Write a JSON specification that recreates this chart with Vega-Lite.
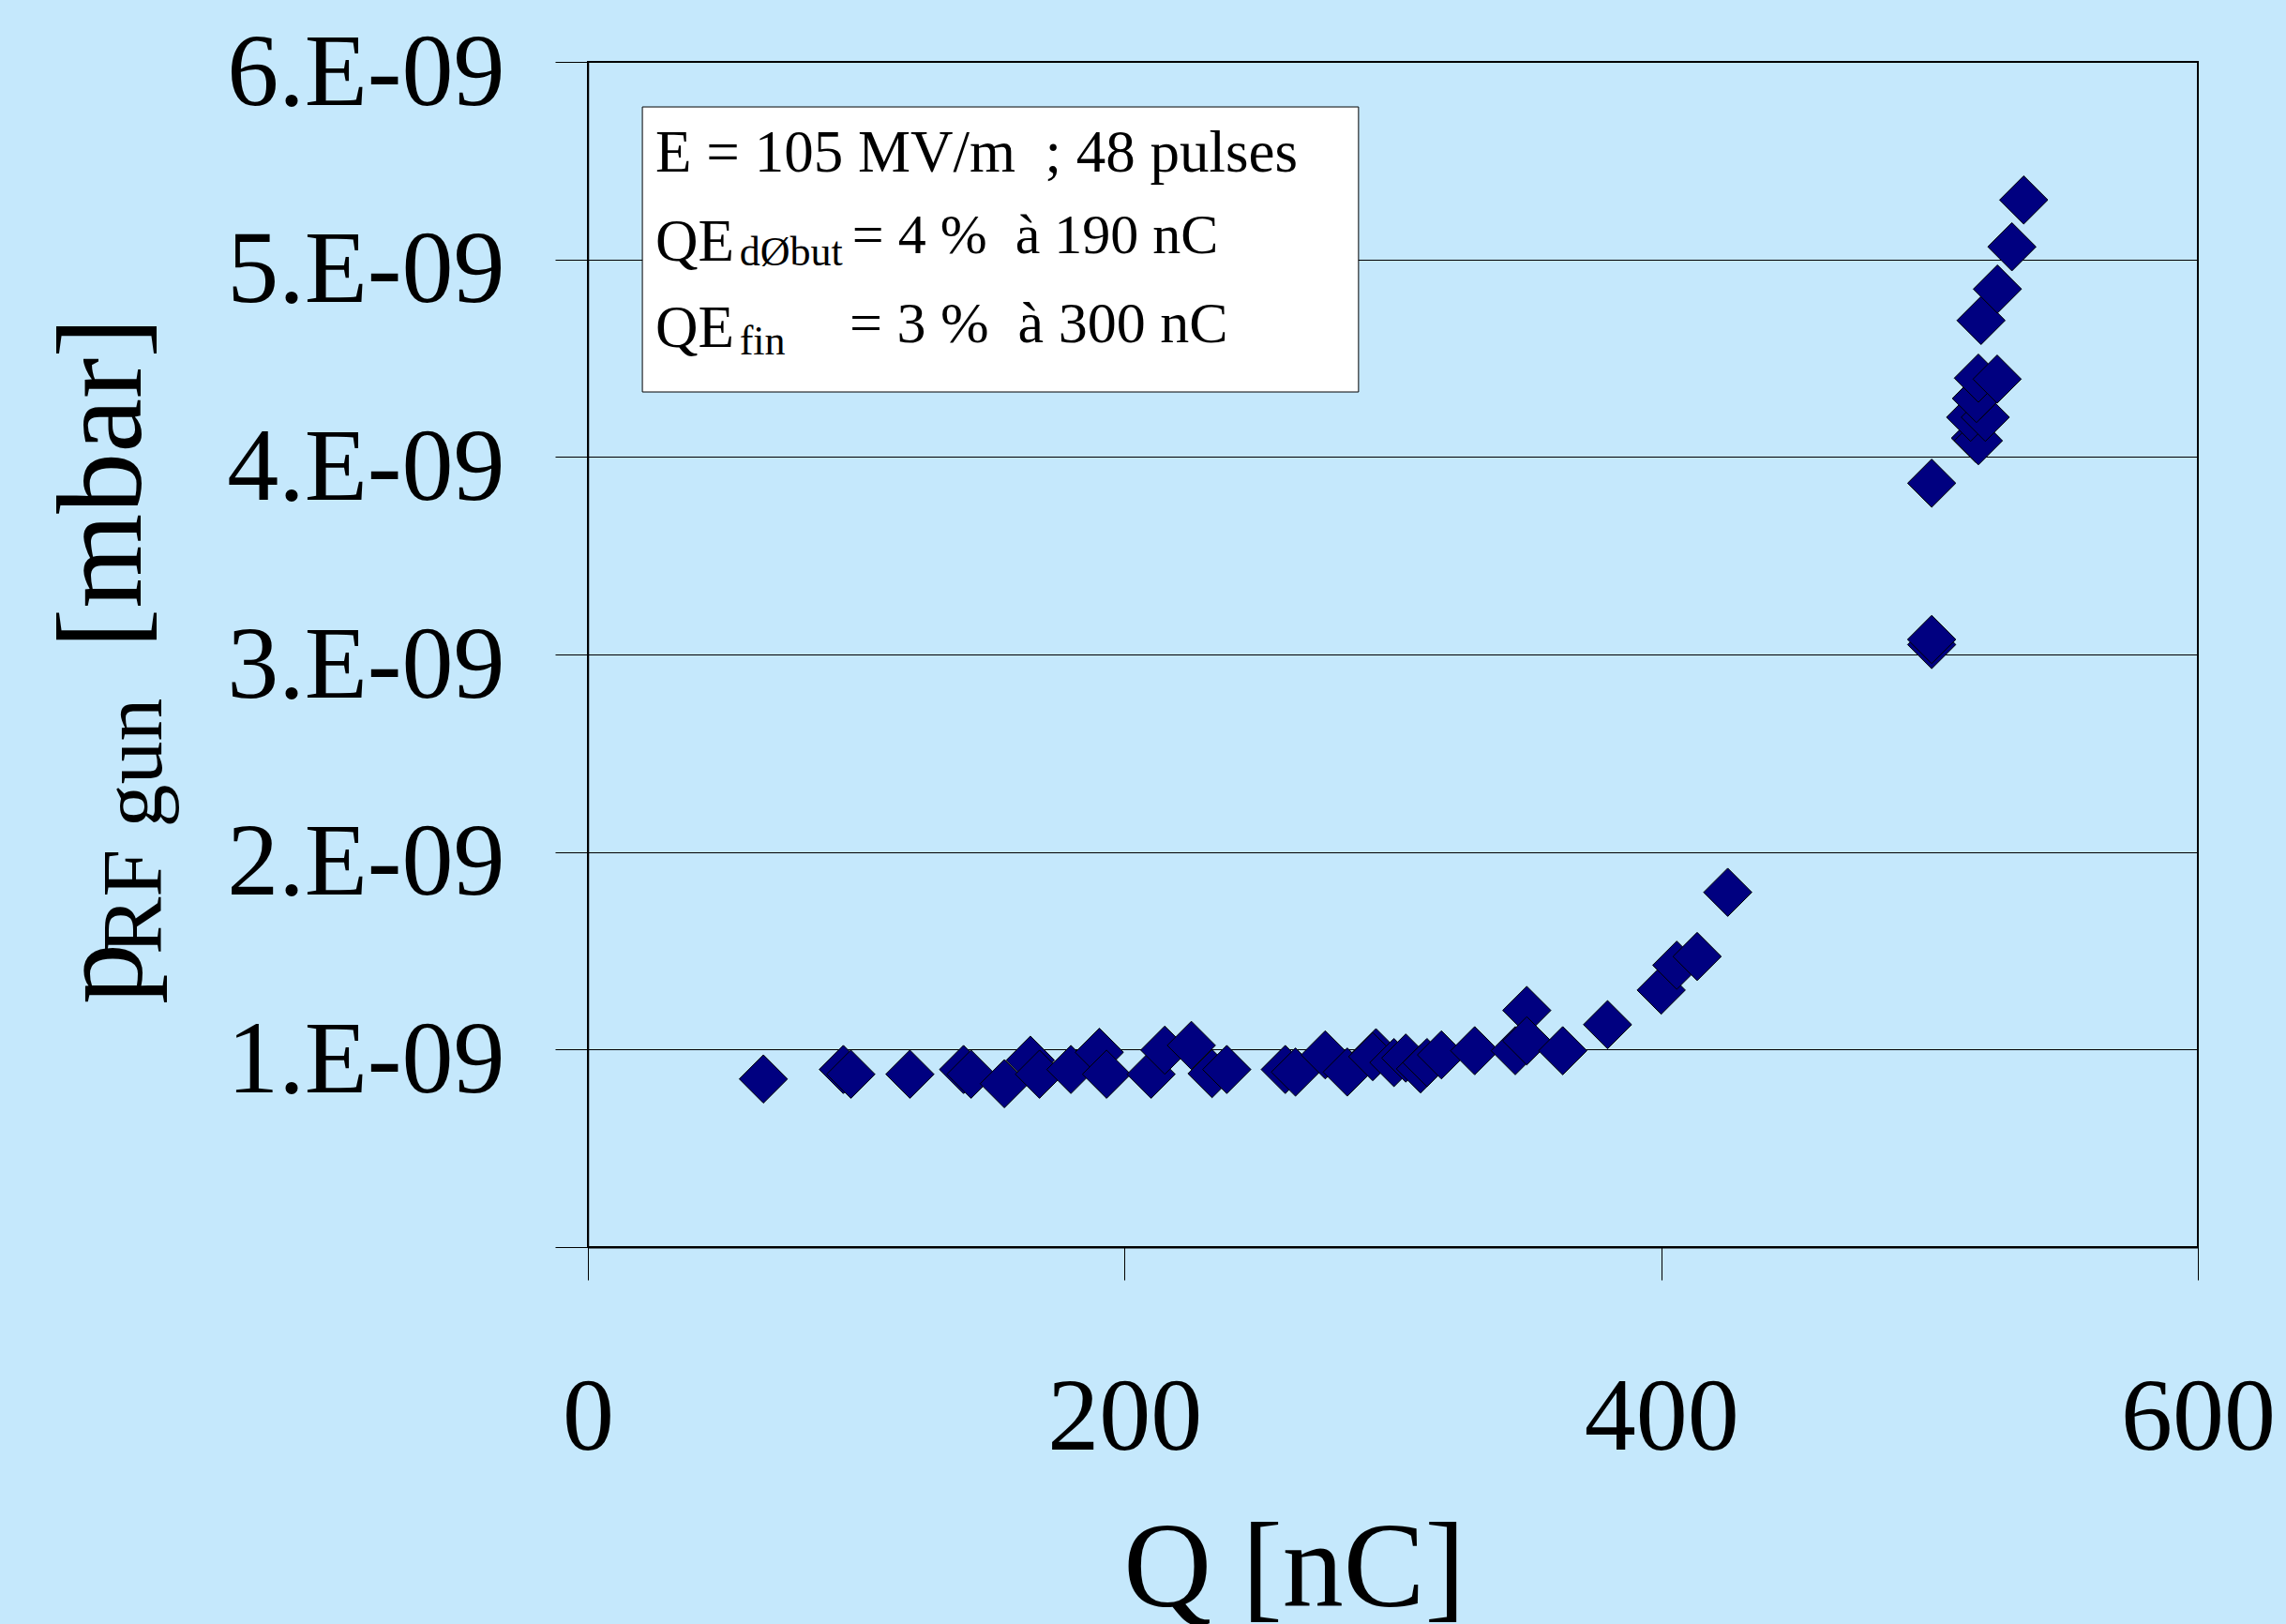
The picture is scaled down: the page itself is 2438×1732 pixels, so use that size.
{
  "$schema": "https://vega.github.io/schema/vega-lite/v6.json",
  "autosize": {"type": "none"},
  "padding": {"left": 627, "top": 66, "right": 94, "bottom": 402},
  "width": 1717,
  "height": 1264,
  "background": "#c5e8fc",
  "view": {"stroke": "#000000", "strokeWidth": 2, "fill": null},
  "config": {"font": "Liberation Serif"},
  "datasets": {
    "points": [
      {"Q": 65.4, "p": 8.51e-10},
      {"Q": 95.2, "p": 8.99e-10},
      {"Q": 98.0, "p": 8.75e-10},
      {"Q": 120.0, "p": 8.75e-10},
      {"Q": 140.0, "p": 8.99e-10},
      {"Q": 142.8, "p": 8.75e-10},
      {"Q": 155.2, "p": 8.27e-10},
      {"Q": 164.9, "p": 9.46e-10},
      {"Q": 168.3, "p": 8.75e-10},
      {"Q": 180.0, "p": 8.99e-10},
      {"Q": 190.6, "p": 9.86e-10},
      {"Q": 193.3, "p": 8.75e-10},
      {"Q": 209.9, "p": 8.75e-10},
      {"Q": 215.0, "p": 9.97e-10},
      {"Q": 224.9, "p": 1.021e-9},
      {"Q": 232.6, "p": 8.78e-10},
      {"Q": 238.1, "p": 8.99e-10},
      {"Q": 259.9, "p": 8.99e-10},
      {"Q": 263.7, "p": 8.86e-10},
      {"Q": 274.8, "p": 9.73e-10},
      {"Q": 283.0, "p": 8.86e-10},
      {"Q": 293.7, "p": 9.84e-10},
      {"Q": 292.5, "p": 9.64e-10},
      {"Q": 300.4, "p": 9.34e-10},
      {"Q": 304.8, "p": 9.57e-10},
      {"Q": 310.3, "p": 9.02e-10},
      {"Q": 312.7, "p": 9.34e-10},
      {"Q": 318.1, "p": 9.73e-10},
      {"Q": 330.5, "p": 9.94e-10},
      {"Q": 345.6, "p": 9.94e-10},
      {"Q": 349.9, "p": 1.198e-9},
      {"Q": 349.9, "p": 1.044e-9},
      {"Q": 363.3, "p": 9.94e-10},
      {"Q": 380.0, "p": 1.126e-9},
      {"Q": 400.0, "p": 1.301e-9},
      {"Q": 405.8, "p": 1.427e-9},
      {"Q": 413.4, "p": 1.471e-9},
      {"Q": 424.8, "p": 1.796e-9},
      {"Q": 500.8, "p": 3.05e-9},
      {"Q": 500.8, "p": 3.076e-9},
      {"Q": 500.8, "p": 3.867e-9},
      {"Q": 517.1, "p": 4.095e-9},
      {"Q": 518.2, "p": 4.082e-9},
      {"Q": 515.3, "p": 4.201e-9},
      {"Q": 520.8, "p": 4.201e-9},
      {"Q": 518.9, "p": 4.315e-9},
      {"Q": 517.5, "p": 4.296e-9},
      {"Q": 518.2, "p": 4.399e-9},
      {"Q": 525.2, "p": 4.394e-9},
      {"Q": 519.2, "p": 4.691e-9},
      {"Q": 525.3, "p": 4.85e-9},
      {"Q": 530.7, "p": 5.064e-9},
      {"Q": 535.1, "p": 5.301e-9}
    ]
  },
  "layer": [
    {
      "data": {"name": "points"},
      "mark": {"type": "point", "shape": "diamond", "filled": true, "fill": "#000080", "stroke": "#000000", "strokeWidth": 1, "size": 2650, "opacity": 1},
      "encoding": {
        "x": {
          "field": "Q", "type": "quantitative",
          "scale": {"domain": [0, 600], "nice": false, "zero": false},
          "axis": {
            "values": [0, 200, 400, 600],
            "grid": false,
            "domainColor": "#000000", "domainWidth": 2,
            "tickColor": "#000000", "tickWidth": 1, "tickSize": 35,
            "labelFont": "Liberation Serif", "labelFontSize": 110, "labelColor": "#000000",
            "labelPadding": 93, "labelBaseline": "top", "labelFlush": false, "labelOverlap": false, "labelLimit": 0,
            "title": "Q [nC]", "titleFont": "Liberation Serif", "titleFontSize": 130,
            "titleFontWeight": "normal", "titleColor": "#000000",
            "titleX": 753, "titleY": 382, "titleAlign": "center", "titleBaseline": "alphabetic"
          }
        },
        "y": {
          "field": "p", "type": "quantitative",
          "scale": {"domain": [0, 6e-9], "nice": false, "zero": true},
          "axis": {
            "values": [0, 1e-9, 2e-9, 3e-9, 4e-9, 5e-9, 6e-9],
            "grid": true, "gridColor": "#000000", "gridWidth": 1, "gridOpacity": 1,
            "domainColor": "#000000", "domainWidth": 1.5,
            "tickColor": "#000000", "tickWidth": 1, "tickSize": 35,
            "labelFont": "Liberation Serif", "labelFontSize": 110, "labelColor": "#000000",
            "labelPadding": 54, "labelOffset": 12, "labelBaseline": "middle", "labelLimit": 0,
            "labelFlush": false, "labelOverlap": false,
            "labelExpr": "datum.value == 0 ? '' : format(datum.value * 1e9, 'd') + '.E-09'",
            "title": null
          }
        }
      }
    },
    {
      "data": {"values": [{"box": "legend"}]},
      "mark": {"type": "rect", "fill": "#ffffff", "stroke": "#000000", "strokeWidth": 1},
      "encoding": {
        "x": {"datum": 20.3, "type": "quantitative"}, "x2": {"datum": 287.2},
        "y": {"datum": 5.772e-9, "type": "quantitative"}, "y2": {"datum": 4.329e-9}
      }
    },
    {
      "data": {"values": [
        {"t": "E = 105 MV/m\u00a0 ; 48 pulses"}
      ]},
      "mark": {"type": "text", "align": "left", "baseline": "alphabetic", "fontSize": 63, "color": "#000000"},
      "encoding": {"x": {"datum": 25.2, "type": "quantitative"}, "y": {"datum": 5.445e-9, "type": "quantitative"}, "text": {"field": "t", "type": "nominal"}}
    },
    {
      "data": {"values": [{"t": "QE"}]},
      "mark": {"type": "text", "align": "left", "baseline": "alphabetic", "fontSize": 63, "color": "#000000"},
      "encoding": {"x": {"datum": 25.2, "type": "quantitative"}, "y": {"datum": 4.994e-9, "type": "quantitative"}, "text": {"field": "t", "type": "nominal"}}
    },
    {
      "data": {"values": [{"t": "dØbut"}]},
      "mark": {"type": "text", "align": "left", "baseline": "alphabetic", "fontSize": 44, "color": "#000000"},
      "encoding": {"x": {"datum": 56.5, "type": "quantitative"}, "y": {"datum": 4.97e-9, "type": "quantitative"}, "text": {"field": "t", "type": "nominal"}}
    },
    {
      "data": {"values": [{"t": "= 4 %\u00a0 à 190 nC"}]},
      "mark": {"type": "text", "align": "left", "baseline": "alphabetic", "fontSize": 60, "color": "#000000"},
      "encoding": {"x": {"datum": 98.5, "type": "quantitative"}, "y": {"datum": 5.032e-9, "type": "quantitative"}, "text": {"field": "t", "type": "nominal"}}
    },
    {
      "data": {"values": [{"t": "QE"}]},
      "mark": {"type": "text", "align": "left", "baseline": "alphabetic", "fontSize": 63, "color": "#000000"},
      "encoding": {"x": {"datum": 25.2, "type": "quantitative"}, "y": {"datum": 4.557e-9, "type": "quantitative"}, "text": {"field": "t", "type": "nominal"}}
    },
    {
      "data": {"values": [{"t": "fin"}]},
      "mark": {"type": "text", "align": "left", "baseline": "alphabetic", "fontSize": 44, "color": "#000000"},
      "encoding": {"x": {"datum": 56.5, "type": "quantitative"}, "y": {"datum": 4.519e-9, "type": "quantitative"}, "text": {"field": "t", "type": "nominal"}}
    },
    {
      "data": {"values": [{"t": "= 3 %\u00a0 à 300 nC"}]},
      "mark": {"type": "text", "align": "left", "baseline": "alphabetic", "fontSize": 62, "color": "#000000"},
      "encoding": {"x": {"datum": 97.5, "type": "quantitative"}, "y": {"datum": 4.581e-9, "type": "quantitative"}, "text": {"field": "t", "type": "nominal"}}
    },
    {
      "data": {"values": [{"t": "p"}]},
      "mark": {"type": "text", "align": "left", "baseline": "alphabetic", "angle": 270, "fontSize": 130, "color": "#000000"},
      "encoding": {"x": {"datum": -166.7, "type": "quantitative"}, "y": {"datum": 1.229e-9, "type": "quantitative"}, "text": {"field": "t", "type": "nominal"}}
    },
    {
      "data": {"values": [{"t": "RF gun"}]},
      "mark": {"type": "text", "align": "left", "baseline": "alphabetic", "angle": 270, "fontSize": 92, "color": "#000000"},
      "encoding": {"x": {"datum": -159.0, "type": "quantitative"}, "y": {"datum": 1.481e-9, "type": "quantitative"}, "text": {"field": "t", "type": "nominal"}}
    },
    {
      "data": {"values": [{"t": "[mbar]"}]},
      "mark": {"type": "text", "align": "left", "baseline": "alphabetic", "angle": 270, "fontSize": 130, "color": "#000000"},
      "encoding": {"x": {"datum": -166.7, "type": "quantitative"}, "y": {"datum": 3.028e-9, "type": "quantitative"}, "text": {"field": "t", "type": "nominal"}}
    }
  ]
}
